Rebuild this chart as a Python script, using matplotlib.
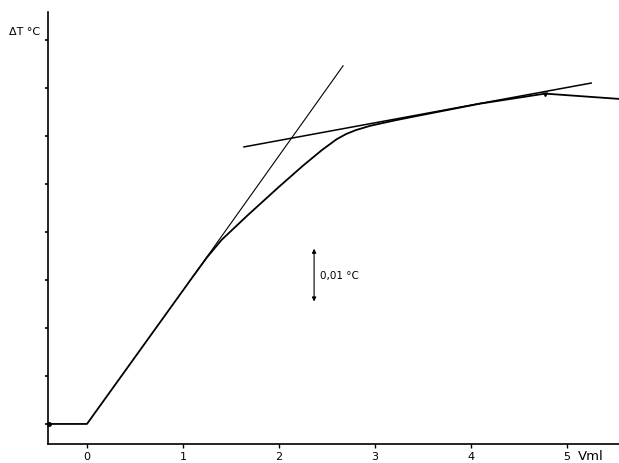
import numpy as np
import matplotlib.pyplot as plt

# curva de titulação termométrica: volume adicionado (ml) x variação de temperatura (°C)
volume = [-0.4, 0.0, 1.1, 1.25, 1.4, 1.67, 2.0, 2.25, 2.45, 2.6, 2.7, 2.8, 2.95,
          3.2, 3.4, 4.09, 4.77, 5.54]
deltaT = [0.0, 0.0, 0.0306, 0.0347, 0.0383, 0.0434, 0.0494, 0.0538, 0.0571, 0.0593,
          0.0604, 0.0612, 0.0621, 0.0632, 0.0640, 0.0667, 0.0688, 0.0677]

# tangentes (extrapolação para achar o ponto de equivalência)
tang1_v = [1.1, 2.667]
tang1_t = [0.0306, 0.0746]
tang2_v = [1.635, 5.25]
tang2_t = [0.0577, 0.0710]

pico_v = 4.77
pico_t = 0.0688

xticks = [0, 1, 2, 3, 4, 5]
yticks = [0.0, 0.01, 0.02, 0.03, 0.04, 0.05, 0.06, 0.07, 0.08]

fig = plt.figure(figsize=(6.19, 4.64), dpi=100)
ax = fig.add_axes([0.0775, 0.041, 0.9225, 0.931])

ax.plot(volume, deltaT, color='black', lw=1.3)
ax.plot(volume[0], deltaT[0], 'o', color='black', ms=2.5, clip_on=False)
ax.plot(tang1_v, tang1_t, color='black', lw=0.8)
ax.plot(tang2_v, tang2_t, color='black', lw=1.1)
ax.plot(pico_v, pico_t - 0.0006, marker=7, color='black', ms=3.5)

# escala de 0,01 °C
ax.annotate('', xy=(2.365, 0.0255), xytext=(2.365, 0.0365),
            arrowprops=dict(arrowstyle='<|-|>', color='black', lw=0.8,
                            mutation_scale=6, shrinkA=0, shrinkB=0))
ax.text(2.43, 0.031, '0,01 °C', fontsize=7.5, va='center', ha='left')

ax.set_xlim(-0.406, 5.54)
ax.set_ylim(-0.00417, 0.0858)
ax.set_xticks(xticks)
ax.set_xticklabels([str(x) for x in xticks], fontsize=8)
ax.set_yticks(yticks)
ax.set_yticklabels([])
ax.tick_params(axis='x', direction='out', length=3, width=1, pad=2)
ax.tick_params(axis='y', direction='out', length=2.5, width=1.2)

ax.spines['top'].set_visible(False)
ax.spines['right'].set_visible(False)
ax.spines['left'].set_linewidth(1.2)
ax.spines['bottom'].set_linewidth(1.2)

ax.text(5.11, -0.0066, 'Vml', fontsize=9.5, va='center', ha='left', clip_on=False)
fig.text(9/619, 1 - 32/464, 'ΔT °C', fontsize=8, va='center', ha='left')

plt.savefig('out.png', dpi=100)
